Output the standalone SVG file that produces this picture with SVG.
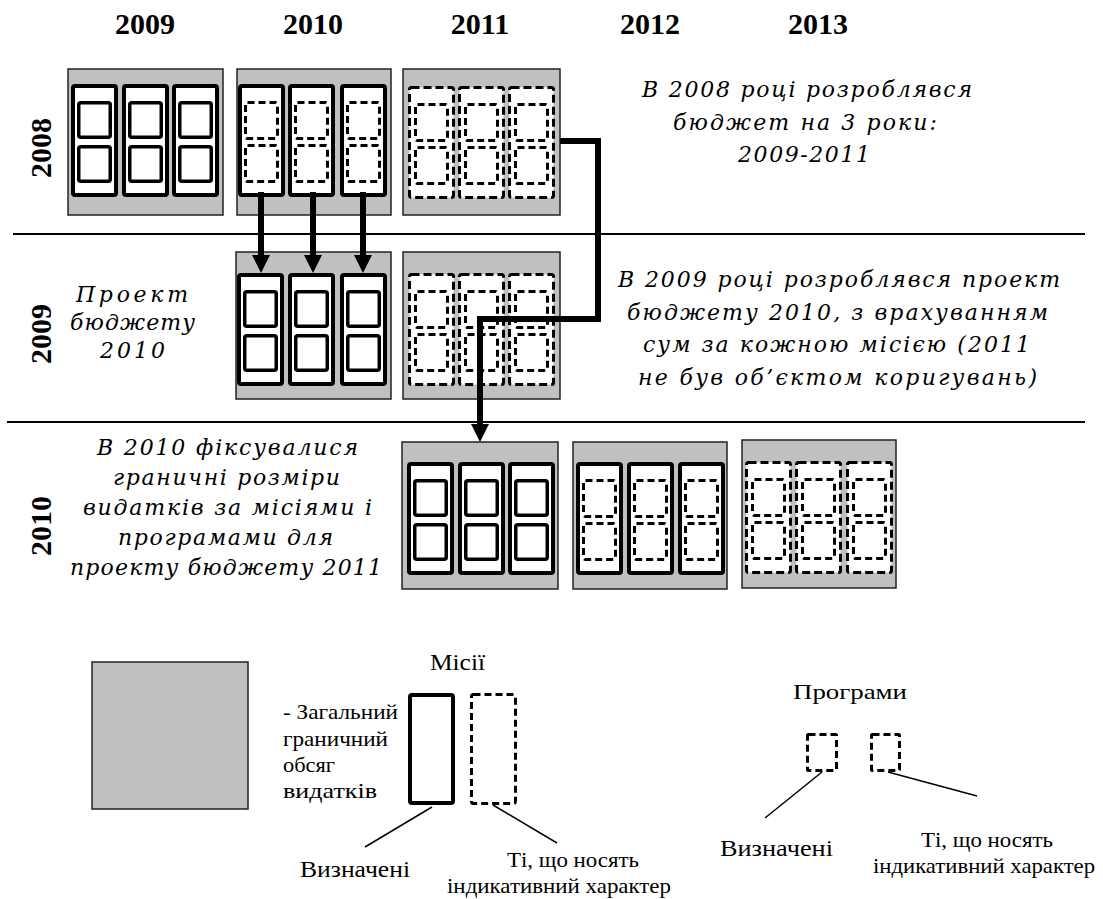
<svg xmlns="http://www.w3.org/2000/svg" xmlns:xlink="http://www.w3.org/1999/xlink" width="1103" height="899" viewBox="0 0 1103 899">
<style>
.box{fill:#c0c0c0;stroke:#222;stroke-width:1.5}
.colS{fill:#fff;stroke:#000;stroke-width:4}
.colD{fill:#fff;stroke:#000;stroke-width:3;stroke-dasharray:8 4}
.prS{fill:#fff;stroke:#000;stroke-width:3.5}
.prD{fill:none;stroke:#000;stroke-width:3;stroke-dasharray:7 4}
.sep{stroke:#000;stroke-width:2}
.conn{fill:none;stroke:#000;stroke-width:6}
.lead{stroke:#000;stroke-width:1.5}
.yr{font-family:"Liberation Serif","DejaVu Serif",serif;font-weight:bold;font-size:30px;fill:#000}
.it{font-family:"DejaVu Serif","Liberation Serif",serif;font-style:italic;font-size:22px;fill:#000}
.lg{font-family:"Liberation Serif","DejaVu Serif",serif;font-size:22px;fill:#000}
</style>
<defs>
<marker id="ah" markerUnits="userSpaceOnUse" markerWidth="18" markerHeight="18" viewBox="0 0 18 18" refX="8" refY="9" orient="auto">
<path d="M0,0 L18,9 L0,18 z" fill="#000"/>
</marker>
<g id="cSS"><rect class="colS" x="2" y="2" width="43" height="109" rx="2"/><rect class="prS" x="7.75" y="18.75" width="31.5" height="34.5" rx="2"/><rect class="prS" x="7.75" y="62.75" width="31.5" height="34.5" rx="2"/></g>
<g id="cSD"><rect class="colS" x="2" y="2" width="43" height="109" rx="2"/><rect class="prD" x="7.5" y="18.5" width="32" height="36" rx="2"/><rect class="prD" x="7.5" y="61.5" width="32" height="36" rx="2"/></g>
<g id="cDD"><rect class="colD" x="1.5" y="1.5" width="44" height="110" rx="2"/><rect class="prD" x="7.5" y="18.5" width="32" height="36" rx="2"/><rect class="prD" x="7.5" y="61.5" width="32" height="36" rx="2"/></g>
</defs>

<g id="year-header">
<text class="yr" x="145" y="34" text-anchor="middle">2009</text>
<text class="yr" x="313" y="34" text-anchor="middle">2010</text>
<text class="yr" x="480" y="34" text-anchor="middle">2011</text>
<text class="yr" x="650" y="34" text-anchor="middle">2012</text>
<text class="yr" x="818" y="34" text-anchor="middle">2013</text>
</g>

<g id="row-labels">
<text class="yr" transform="translate(51,148) rotate(-90)" text-anchor="middle">2008</text>
<text class="yr" transform="translate(51,334) rotate(-90)" text-anchor="middle">2009</text>
<text class="yr" transform="translate(51,526) rotate(-90)" text-anchor="middle">2010</text>
</g>

<g id="separators">
<line class="sep" x1="13" y1="234" x2="1085" y2="234"/>
<line class="sep" x1="7" y1="422" x2="1085" y2="422"/>
</g>

<g id="box-2008-2009" transform="translate(68,69)">
<rect class="box" width="155" height="146"/>
<use xlink:href="#cSS" x="3" y="15"/><use xlink:href="#cSS" x="54" y="15"/><use xlink:href="#cSS" x="104" y="15"/>
</g>
<g id="box-2008-2010" transform="translate(237,69)">
<rect class="box" width="154" height="146"/>
<use xlink:href="#cSD" x="1" y="15"/><use xlink:href="#cSD" x="51" y="15"/><use xlink:href="#cSD" x="103" y="15"/>
</g>
<g id="box-2008-2011" transform="translate(403,69)">
<rect class="box" width="157" height="146"/>
<use xlink:href="#cDD" x="5" y="17"/><use xlink:href="#cDD" x="55" y="17"/><use xlink:href="#cDD" x="105" y="17"/>
</g>

<g id="box-2009-2010" transform="translate(236,252)">
<rect class="box" width="155" height="147"/>
<use xlink:href="#cSS" x="1" y="21"/><use xlink:href="#cSS" x="52" y="21"/><use xlink:href="#cSS" x="104" y="21"/>
</g>
<g id="box-2009-2011" transform="translate(403,252)">
<rect class="box" width="157" height="147"/>
<use xlink:href="#cDD" x="5" y="21"/><use xlink:href="#cDD" x="55" y="21"/><use xlink:href="#cDD" x="105" y="21"/>
</g>

<g id="box-2010-2011" transform="translate(402,442)">
<rect class="box" width="156" height="147"/>
<use xlink:href="#cSS" x="5" y="20"/><use xlink:href="#cSS" x="56" y="20"/><use xlink:href="#cSS" x="106" y="20"/>
</g>
<g id="box-2010-2012" transform="translate(573,442)">
<rect class="box" width="154" height="147"/>
<use xlink:href="#cSD" x="3" y="20"/><use xlink:href="#cSD" x="54" y="20"/><use xlink:href="#cSD" x="105" y="20"/>
</g>
<g id="box-2010-2013" transform="translate(742,440)">
<rect class="box" width="154" height="148"/>
<use xlink:href="#cDD" x="3" y="21"/><use xlink:href="#cDD" x="53" y="21"/><use xlink:href="#cDD" x="104" y="21"/>
</g>

<g id="connectors">
<line class="conn" x1="261" y1="192" x2="261" y2="263" marker-end="url(#ah)"/>
<line class="conn" x1="313" y1="192" x2="313" y2="263" marker-end="url(#ah)"/>
<line class="conn" x1="363" y1="192" x2="363" y2="263" marker-end="url(#ah)"/>
<polyline class="conn" points="560,141 598,141 598,319 480,319 480,432" marker-end="url(#ah)"/>
</g>

<g id="note-2008">
<text class="it" x="642" y="97" textLength="330" lengthAdjust="spacing">В 2008 році розроблявся</text>
<text class="it" x="673" y="130" textLength="264" lengthAdjust="spacing">бюджет на 3 роки:</text>
<text class="it" x="738" y="162" textLength="132" lengthAdjust="spacing">2009-2011</text>
</g>

<g id="note-2009">
<text class="it" x="618" y="287" textLength="442" lengthAdjust="spacing">В 2009 році розроблявся проект</text>
<text class="it" x="627" y="320" textLength="421" lengthAdjust="spacing">бюджету 2010, з врахуванням</text>
<text class="it" x="643" y="352" textLength="387" lengthAdjust="spacing">сум за кожною місією (2011</text>
<text class="it" x="638" y="385" textLength="399" lengthAdjust="spacing">не був об’єктом коригувань)</text>
</g>

<g id="note-project">
<text class="it" x="76" y="302" textLength="112" lengthAdjust="spacing">Проект</text>
<text class="it" x="70" y="330" textLength="125" lengthAdjust="spacing">бюджету</text>
<text class="it" x="100" y="358" textLength="65" lengthAdjust="spacing">2010</text>
</g>

<g id="note-2010">
<text class="it" x="97" y="455" textLength="261" lengthAdjust="spacing">В 2010 фіксувалися</text>
<text class="it" x="113" y="485" textLength="227" lengthAdjust="spacing">граничні розміри</text>
<text class="it" x="83" y="515" textLength="289" lengthAdjust="spacing">видатків за місіями і</text>
<text class="it" x="118" y="545" textLength="215" lengthAdjust="spacing">програмами для</text>
<text class="it" x="70" y="575" textLength="312" lengthAdjust="spacing">проекту бюджету 2011</text>
</g>

<g id="legend-total">
<rect class="box" x="92" y="662" width="156" height="147"/>
<text class="lg" x="283" y="719" textLength="115" lengthAdjust="spacingAndGlyphs">- Загальний</text>
<text class="lg" x="283" y="746" textLength="105" lengthAdjust="spacingAndGlyphs">граничний</text>
<text class="lg" x="283" y="772" textLength="52" lengthAdjust="spacingAndGlyphs">обсяг</text>
<text class="lg" x="283" y="798" textLength="94" lengthAdjust="spacingAndGlyphs">видатків</text>
</g>

<g id="legend-missions">
<text class="lg" x="430" y="670" textLength="55" lengthAdjust="spacingAndGlyphs" style="font-size:24px">Місії</text>
<rect class="colS" x="410" y="695" width="43" height="108" rx="2"/>
<rect class="prD" x="471.5" y="694.5" width="44" height="109" rx="2"/>
<line class="lead" x1="432" y1="807" x2="365" y2="847"/>
<line class="lead" x1="493" y1="805" x2="557" y2="843"/>
<text class="lg" x="300" y="877" textLength="110" lengthAdjust="spacingAndGlyphs" style="font-size:24px">Визначені</text>
<text class="lg" x="507" y="867" textLength="132" lengthAdjust="spacingAndGlyphs">Ті, що носять</text>
<text class="lg" x="447" y="893" textLength="224" lengthAdjust="spacingAndGlyphs">індикативний характер</text>
</g>

<g id="legend-programs">
<text class="lg" x="793" y="699" textLength="114" lengthAdjust="spacingAndGlyphs">Програми</text>
<rect class="prD" x="807.5" y="734.5" width="29" height="36" rx="1"/>
<rect class="prD" x="871.5" y="734.5" width="28" height="36" rx="1"/>
<line class="lead" x1="822" y1="772" x2="765" y2="818"/>
<line class="lead" x1="888" y1="772" x2="977" y2="796"/>
<text class="lg" x="720" y="856" textLength="113" lengthAdjust="spacingAndGlyphs" style="font-size:24px">Визначені</text>
<text class="lg" x="921" y="847" textLength="132" lengthAdjust="spacingAndGlyphs">Ті, що носять</text>
<text class="lg" x="873" y="873" textLength="222" lengthAdjust="spacingAndGlyphs">індикативний характер</text>
</g>
</svg>
